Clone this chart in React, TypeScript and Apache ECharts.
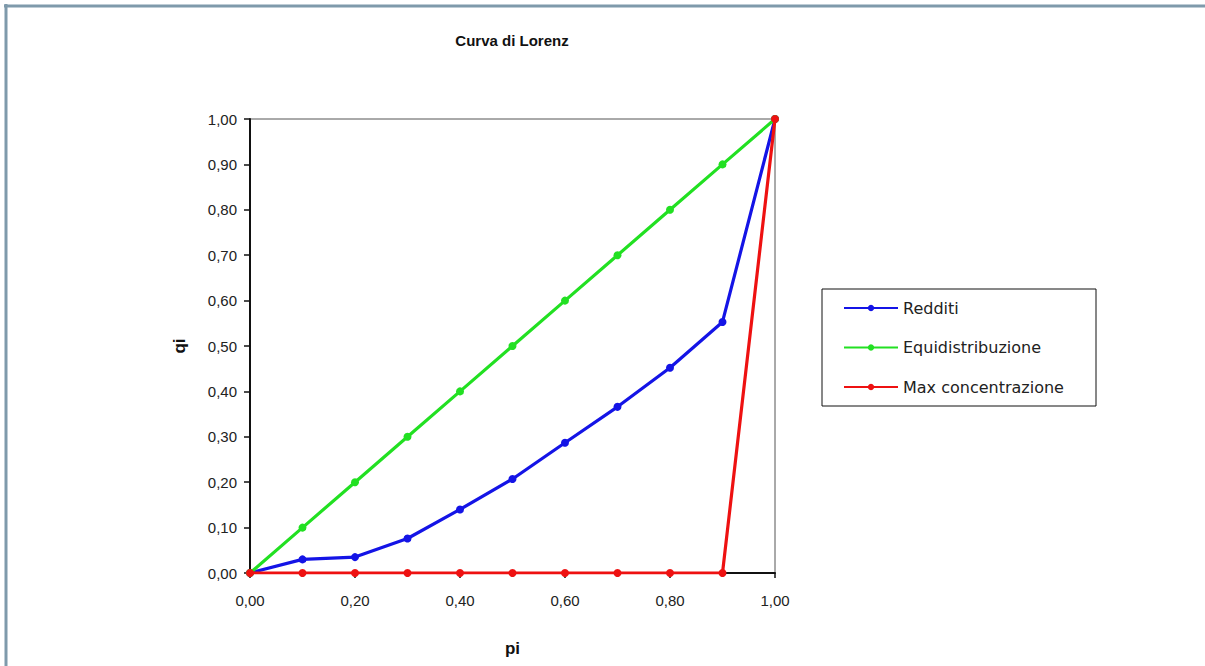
import React, { useEffect, useRef } from "react";
import * as echarts from "echarts";

const pi = [0, 0.1, 0.2, 0.3, 0.4, 0.5, 0.6, 0.7, 0.8, 0.9, 1.0];
const redditi = [0, 0.03, 0.035, 0.076, 0.14, 0.207, 0.287, 0.366, 0.452, 0.553, 1.0];
const equidistribuzione = [0, 0.1, 0.2, 0.3, 0.4, 0.5, 0.6, 0.7, 0.8, 0.9, 1.0];
const maxConcentrazione = [0, 0, 0, 0, 0, 0, 0, 0, 0, 0, 1.0];
const seriesNames = ["Redditi", "Equidistribuzione", "Max concentrazione"];
const seriesColors = ["#1414e6", "#22e022", "#ee1111"];

const FONT = "'Liberation Sans', Arial, sans-serif";
const fmt = (v: number) => v.toFixed(2).replace(".", ",");

export default function App() {
  const ref = useRef<HTMLDivElement>(null);
  useEffect(() => {
    if (!ref.current) return;
    const chart = echarts.init(ref.current, null, { renderer: "svg" });
    const values = [redditi, equidistribuzione, maxConcentrazione];
    chart.setOption({
      animation: false,
      backgroundColor: "#ffffff",
      textStyle: { fontFamily: FONT },
      grid: {
        left: 250,
        right: 430,
        top: 119,
        bottom: 93,
        show: true,
        borderColor: "#555555",
        borderWidth: 1,
      },
      xAxis: {
        type: "value",
        min: 0,
        max: 1,
        interval: 0.2,
        name: "pi",
        nameLocation: "middle",
        nameGap: 67,
        nameTextStyle: { fontFamily: FONT, fontWeight: "bold", fontSize: 17, color: "#111" },
        axisLine: { show: true, lineStyle: { color: "#111", width: 2 } },
        axisTick: { show: true, length: 5, lineStyle: { color: "#111", width: 1.5 } },
        axisLabel: { formatter: fmt, fontSize: 15, color: "#222", margin: 20 },
        splitLine: { show: false },
      },
      yAxis: {
        type: "value",
        min: 0,
        max: 1,
        interval: 0.1,
        name: "qi",
        nameLocation: "middle",
        nameGap: 62,
        nameRotate: 90,
        nameTextStyle: { fontFamily: FONT, fontWeight: "bold", fontSize: 17, color: "#111" },
        axisLine: { show: true, lineStyle: { color: "#111", width: 2 } },
        axisTick: { show: true, length: 6, lineStyle: { color: "#111", width: 1.5 } },
        axisLabel: { formatter: fmt, fontSize: 15, color: "#222", margin: 13 },
        splitLine: { show: false },
      },
      legend: {
        orient: "vertical",
        left: 843,
        top: 300,
        padding: 0,
        itemWidth: 54,
        itemHeight: 8,
        itemGap: 23.5,
        textStyle: { fontFamily: "'DejaVu Sans', sans-serif", fontSize: 16, color: "#222" },
        data: seriesNames,
      },
      graphic: [
        {
          type: "line",
          shape: { x1: 4, y1: 6, x2: 1205, y2: 6 },
          style: { stroke: "#7f9aab", lineWidth: 3 },
        },
        {
          type: "line",
          shape: { x1: 6, y1: 4, x2: 6, y2: 666 },
          style: { stroke: "#7f9aab", lineWidth: 3 },
        },
        {
          type: "text",
          x: 512,
          y: 40,
          style: {
            text: "Curva di Lorenz",
            fontFamily: FONT,
            fontWeight: "bold",
            fontSize: 15,
            fill: "#111",
            textAlign: "center",
            textVerticalAlign: "middle",
          },
        },
        {
          type: "rect",
          shape: { x: 822, y: 289, width: 274, height: 117 },
          style: { fill: "none", stroke: "#111", lineWidth: 1 },
        },
      ],
      series: seriesNames.map((name, i) => ({
        name,
        type: "line",
        data: pi.map((p, j) => [p, values[i][j]]),
        symbol: "circle",
        symbolSize: 8,
        showSymbol: true,
        lineStyle: { color: seriesColors[i], width: 3.2 },
        itemStyle: { color: seriesColors[i] },
        z: 2 + i,
      })),
    });
    return () => chart.dispose();
  }, []);
  return (
    <div
      ref={ref}
      style={{ position: "absolute", left: 0, top: 0, width: 1205, height: 666 }}
    />
  );
}
